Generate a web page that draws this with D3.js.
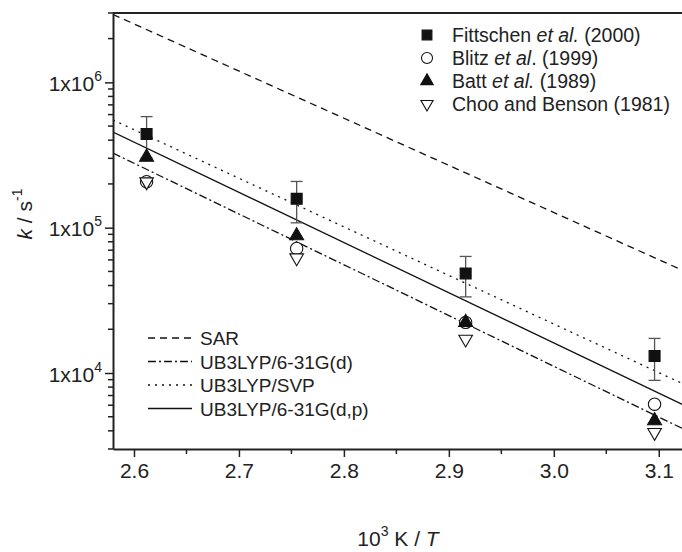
<!DOCTYPE html><html><head><meta charset="UTF-8"><script src="https://d3js.org/d3.v7.min.js"></script><style>
    body { margin: 0; background: #fff; }
    svg text { font-family: Arial, "Liberation Sans", sans-serif; fill: #222; }
</style></head><body><div id="chart"></div><script>
    // x = 10^3 K / T, k in s^-1
    const xTicks = [2.6, 2.7, 2.8, 2.9, 3.0, 3.1];
    const yTicks = [1e4, 1e5, 1e6];

    // model lines, read at the two plot edges
    const lineX = [2.58, 3.125];
    const sarK = [2.93e6, 5.0e4];
    const b3lypDK = [3.26e5, 4.07e3];
    const b3lypSvpK = [5.51e5, 8.3e3];
    const b3lypDpK = [4.55e5, 5.95e3];

    // experimental points
    const expX = [2.612, 2.755, 2.916, 3.096];
    const fittschenK = [4.41e5, 1.58e5, 4.84e4, 1.31e4];
    const fittschenErr = [1.4e5, 0.5e5, 1.5e4, 0.42e4];
    const blitzK = [2.07e5, 7.2e4, 2.23e4, 6.1e3];
    const battK = [3.06e5, 8.8e4, 2.23e4, 4.7e3];
    const chooK = [2.07e5, 6.2e4, 1.71e4, 3.9e3];

    const fullWidth = 682, fullHeight = 552;
    const mLeft = 113, mTop = 13, mBottom = 449, mRight = 685;

    const svg = d3.select('#chart').append('svg')
        .attr('width', fullWidth).attr('height', fullHeight);

    const x = d3.scaleLinear().domain([2.58, 3.125]).range([mLeft, mRight]);
    const y = d3.scaleLog().domain([3e3, 3e6]).range([mBottom, mTop]);

    svg.append('clipPath').attr('id', 'clip').append('rect')
        .attr('x', mLeft).attr('y', mTop).attr('width', mRight - mLeft).attr('height', mBottom - mTop);

    const plot = svg.append('g').attr('clip-path', 'url(#clip)');

    const lines = [
        {name: 'SAR', k: sarK, dash: '7,5'},
        {name: 'UB3LYP/6-31G(d)', k: b3lypDK, dash: '8,3,2,3'},
        {name: 'UB3LYP/SVP', k: b3lypSvpK, dash: '2,5'},
        {name: 'UB3LYP/6-31G(d,p)', k: b3lypDpK, dash: null}
    ];
    const lineGen = d3.line().x(d => x(d[0])).y(d => y(d[1]));

    lines.forEach(l => {
        plot.append('path')
            .datum(lineX.map((v, i) => [v, l.k[i]]))
            .attr('d', lineGen)
            .attr('fill', 'none')
            .attr('stroke', '#111')
            .attr('stroke-width', 1.3)
            .attr('stroke-dasharray', l.dash);
    });

    // error bars
    const err = plot.append('g').attr('stroke', '#555').attr('stroke-width', 1.3);
    expX.forEach((v, i) => {
        const cx = x(v);
        const y1 = y(fittschenK[i] + fittschenErr[i]);
        const y2 = y(fittschenK[i] - fittschenErr[i]);
        err.append('line').attr('x1', cx).attr('x2', cx).attr('y1', y1).attr('y2', y2);
        err.append('line').attr('x1', cx - 6).attr('x2', cx + 6).attr('y1', y1).attr('y2', y1);
        err.append('line').attr('x1', cx - 6).attr('x2', cx + 6).attr('y1', y2).attr('y2', y2);
    });

    const symbols = [
        {name: 'Fittschen', k: fittschenK, type: d3.symbolSquare, size: 120, fill: '#111'},
        {name: 'Blitz', k: blitzK, type: d3.symbolCircle, size: 120, fill: '#fff'},
        {name: 'Batt', k: battK, type: d3.symbolTriangle, size: 85, fill: '#111'},
        {name: 'Choo', k: chooK, type: d3.symbolTriangle, size: 80, fill: '#fff', flip: true}
    ];

    function drawSymbol(g, s, cx, cy) {
        g.append('path')
            .attr('d', d3.symbol().type(s.type).size(s.size)())
            .attr('transform', `translate(${cx},${cy})` + (s.flip ? ' rotate(180)' : ''))
            .attr('fill', s.fill)
            .attr('stroke', '#111')
            .attr('stroke-width', 1.1);
    }

    // draw order: circle, down-triangle, triangle, square
    [symbols[1], symbols[3], symbols[2], symbols[0]].forEach(s => {
        s.k.forEach((k, i) => drawSymbol(plot, s, x(expX[i]), y(k)));
    });

    // top frame line
    svg.append('line').attr('x1', mLeft).attr('x2', fullWidth).attr('y1', mTop).attr('y2', mTop)
        .attr('stroke', '#222').attr('stroke-width', 2);

    // x axis
    const xAxis = svg.append('g').attr('transform', `translate(0,${mBottom})`)
        .call(d3.axisBottom(x).tickValues(xTicks).tickFormat(d3.format('.1f')).tickSize(8).tickSizeOuter(0));
    xAxis.select('.domain').attr('stroke', '#222').attr('stroke-width', 2);
    xAxis.selectAll('.tick line').attr('stroke', '#222').attr('stroke-width', 1.5);
    xAxis.selectAll('.tick text').attr('font-size', 21).attr('y', 11).attr('dy', '0.85em');
    const xMinor = [2.65, 2.75, 2.85, 2.95, 3.05];
    xAxis.selectAll('.minor').data(xMinor).enter().append('line')
        .attr('x1', d => x(d)).attr('x2', d => x(d)).attr('y1', 0).attr('y2', 5)
        .attr('stroke', '#222').attr('stroke-width', 1.5);

    // y axis
    const yAxis = svg.append('g').attr('transform', `translate(${mLeft},0)`)
        .call(d3.axisLeft(y).tickValues(yTicks).tickFormat('').tickSize(8).tickSizeOuter(0));
    yAxis.select('.domain').attr('stroke', '#222').attr('stroke-width', 2);
    yAxis.selectAll('.tick line').attr('stroke', '#222').attr('stroke-width', 1.5);
    const yMinor = [];
    [1e3, 1e4, 1e5, 1e6].forEach(dec => {
        for (let m = 2; m <= 9; m++) {
            const v = m * dec;
            if (v >= 3e3 && v <= 3e6) yMinor.push(v);
        }
    });
    yAxis.selectAll('.minor').data(yMinor).enter().append('line')
        .attr('x1', -5).attr('x2', 0).attr('y1', d => y(d)).attr('y2', d => y(d))
        .attr('stroke', '#222').attr('stroke-width', 1.5);
    yAxis.selectAll('.tick').each(function(d) {
        const t = d3.select(this).append('text')
            .attr('x', -11).attr('y', 8).attr('text-anchor', 'end')
            .attr('font-size', 21).attr('fill', '#222');
        t.append('tspan').text('1x10');
        t.append('tspan').attr('font-size', 14).attr('dy', -10).text(Math.round(Math.log10(d)));
    });

    // axis titles
    const yt = svg.append('text')
        .attr('transform', `translate(32,214) rotate(-90)`)
        .attr('text-anchor', 'middle').attr('font-size', 21);
    yt.append('tspan').attr('font-style', 'italic').text('k');
    yt.append('tspan').text(' / s');
    yt.append('tspan').attr('font-size', 14).attr('dy', -10).text('-1');

    const xt = svg.append('text')
        .attr('x', 398).attr('y', 546)
        .attr('text-anchor', 'middle').attr('font-size', 21);
    xt.append('tspan').text('10');
    xt.append('tspan').attr('font-size', 14).attr('dy', -10).text('3');
    xt.append('tspan').attr('dy', 10).text(' K / ');
    xt.append('tspan').attr('font-style', 'italic').text('T');

    // legend for points
    const legPts = [
        [{t: 'Fittschen '}, {t: 'et al.', i: true}, {t: ' (2000)'}],
        [{t: 'Blitz '}, {t: 'et al', i: true}, {t: '. (1999)'}],
        [{t: 'Batt '}, {t: 'et al.', i: true}, {t: ' (1989)'}],
        [{t: 'Choo and Benson (1981)'}]
    ];
    legPts.forEach((parts, i) => {
        const ly = 35 + i * 23;
        drawSymbol(svg, Object.assign({}, symbols[i], {size: symbols[i].size * 0.8}), 427, ly);
        const t = svg.append('text').attr('x', 452).attr('y', ly + 7).attr('font-size', 19.5);
        parts.forEach(p => t.append('tspan').attr('font-style', p.i ? 'italic' : null).text(p.t));
    });

    // legend for lines
    lines.forEach((l, i) => {
        const ly = 338 + i * 23.5;
        svg.append('line').attr('x1', 148).attr('x2', 192).attr('y1', ly).attr('y2', ly)
            .attr('stroke', '#111').attr('stroke-width', 1.3).attr('stroke-dasharray', l.dash);
        svg.append('text').attr('x', 200).attr('y', ly + 7).attr('font-size', 19).text(l.name);
    });
</script></body></html>
